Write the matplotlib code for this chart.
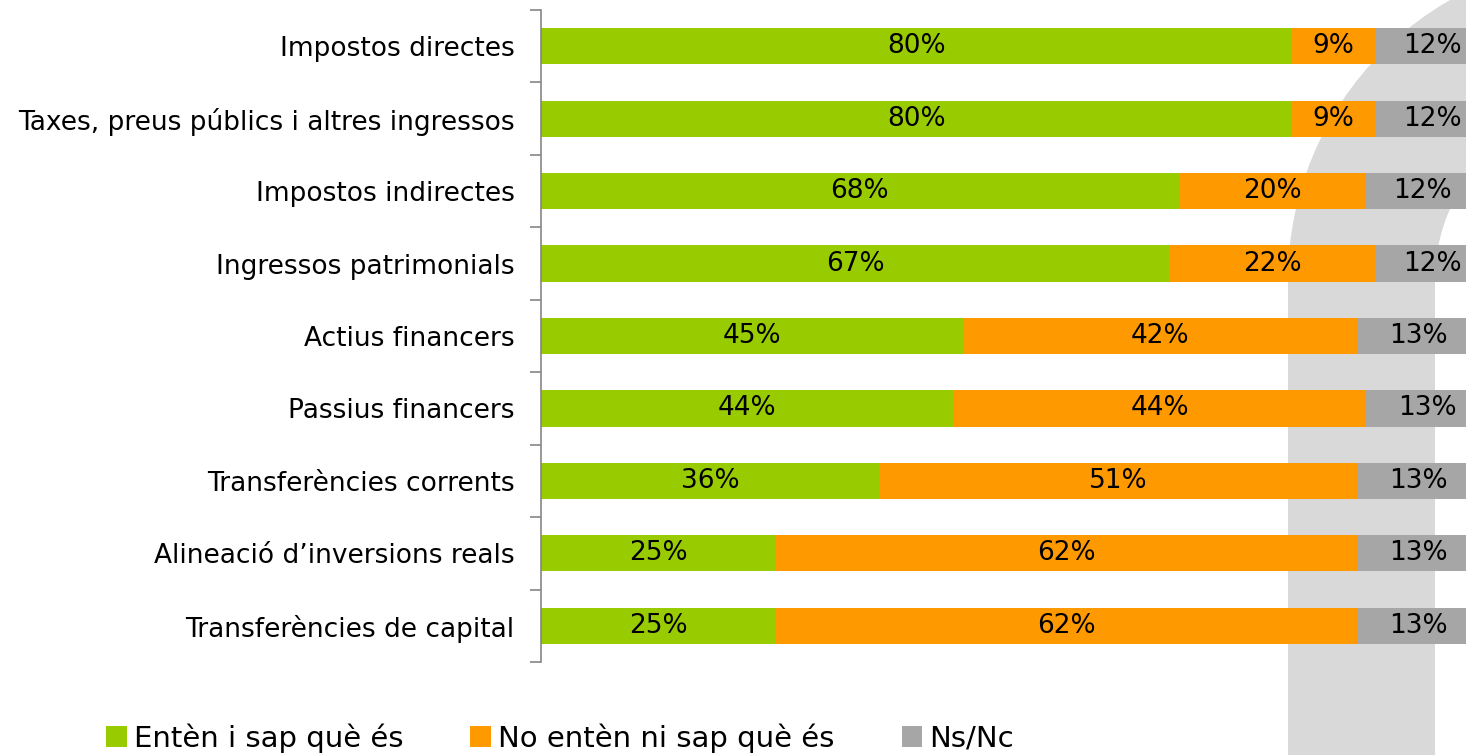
import matplotlib
matplotlib.use("Agg")
import matplotlib.pyplot as plt
from matplotlib.patches import Wedge, Rectangle, Patch
import numpy as np

categories = [
    "Impostos directes",
    "Taxes, preus públics i altres ingressos",
    "Impostos indirectes",
    "Ingressos patrimonials",
    "Actius financers",
    "Passius financers",
    "Transferències corrents",
    "Alineació d\u2019inversions reals",
    "Transferències de capital",
]
understands = [80, 80, 68, 67, 45, 44, 36, 25, 25]
not_understands = [9, 9, 20, 22, 42, 44, 51, 62, 62]
ns_nc = [12, 12, 12, 12, 13, 13, 13, 13, 13]
series_names = ["Entèn i sap què és", "No entèn ni sap què és", "Ns/Nc"]
colors = ["#99CC00", "#FF9900", "#A6A6A6"]

plt.rcParams['font.family'] = ['DejaVu Sans']
FS = 19

W, H = 14.66, 7.55
fig = plt.figure(figsize=(W, H), dpi=100)

# decorative background arch (inches)
arch_col = "#D9D9D9"
fig.patches.append(Wedge((16.11, 4.75), 3.23, 90, 180, width=1.47,
                         transform=fig.dpi_scale_trans, facecolor=arch_col,
                         edgecolor='none', zorder=-10))
fig.patches.append(Rectangle((12.88, -0.1), 1.47, 4.85,
                             transform=fig.dpi_scale_trans, facecolor=arch_col,
                             edgecolor='none', zorder=-10))

left = 541 / 1466
right = (541 + 938) / 1466
top = 1 - 10 / 755
bottom = 1 - 662 / 755
ax = fig.add_axes([left, bottom, right - left, top - bottom])
ax.set_zorder(5)
ax.set_facecolor('none')

n = len(categories)
y = np.arange(n)
data = [understands, not_understands, ns_nc]
lefts = np.zeros(n)
for vals, col in zip(data, colors):
    vals = np.array(vals, dtype=float)
    ax.barh(y, vals, left=lefts, height=0.5, color=col, edgecolor='none', zorder=2)
    for yi, l, v in zip(y, lefts, vals):
        ax.text(l + v / 2, yi, f"{int(v)}%", ha='center', va='center',
                fontsize=FS, color='black', zorder=3)
    lefts += vals

ax.set_xlim(0, 100)
ax.set_ylim(n - 0.5, -0.5)
ax.set_yticks(y)
ax.set_yticklabels(categories, fontsize=FS)
ax.set_yticks(np.arange(n + 1) - 0.5, minor=True)
ax.tick_params(axis='y', which='major', length=0, pad=19)
ax.tick_params(axis='y', which='minor', length=8, width=1.2, color='#868686', direction='out')
ax.set_xticks([])
for s in ['top', 'right', 'bottom']:
    ax.spines[s].set_visible(False)
ax.spines['left'].set_color('#868686')
ax.spines['left'].set_linewidth(1.2)

handles = [Patch(facecolor=c, edgecolor='none') for c in colors]
leg = fig.legend(handles, series_names, loc='center', bbox_to_anchor=(560 / 1466, 1 - 738 / 755),
                 ncol=3, frameon=False, fontsize=21, handlelength=0.7, handleheight=0.7,
                 handletextpad=0.25, columnspacing=2.3)
leg.set_zorder(6)

fig.savefig("out.png", dpi=100)
